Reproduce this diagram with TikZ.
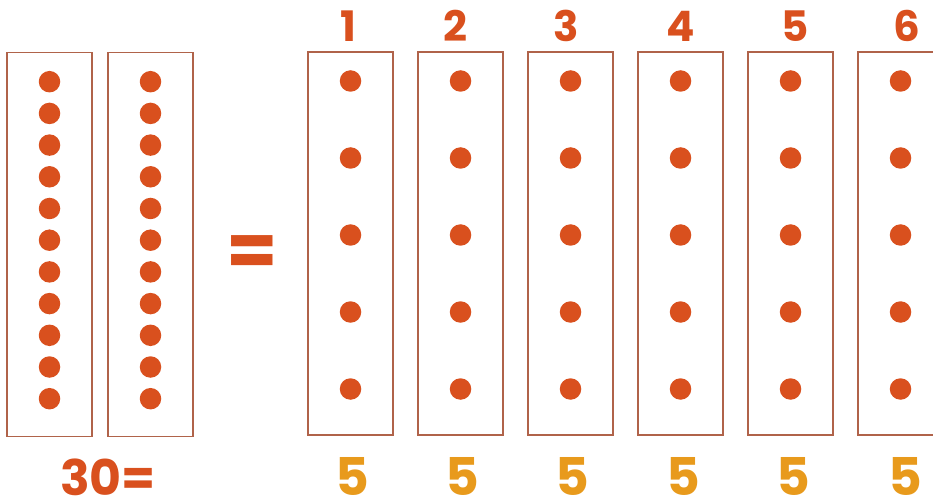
\documentclass[tikz,border=0pt]{standalone}
\usepackage{fontspec}
\setmainfont{Poppins}
\definecolor{dotc}{HTML}{D9501E}
\definecolor{boxc}{HTML}{B0634A}
\definecolor{fivec}{HTML}{E89A1C}
\tikzset{
  colbox/.style={draw=boxc, line width=1.6pt, minimum width=85pt, minimum height=384pt, inner sep=0pt},
  bead/.style={circle, fill=dotc, minimum size=21.5pt, inner sep=0pt},
  topnum/.style={anchor=base, text=dotc, font=\bfseries\fontsize{42}{42}\selectfont, inner sep=0pt},
  botnum/.style={anchor=base, text=fivec, font=\bfseries\fontsize{52}{52}\selectfont, inner sep=0pt},
  total/.style={anchor=base, text=dotc, font=\bfseries\fontsize{49}{49}\selectfont, inner sep=0pt},
  bigeq/.style={anchor=center, text=dotc, font=\bfseries\fontsize{74}{74}\selectfont, inner sep=0pt}
}
\begin{document}
\begin{tikzpicture}[x=1pt,y=-1pt]
\useasboundingbox (0,0) rectangle (933,502);
% left boxes
\foreach \i/\cx in {1/49.5,2/150.5} {
  \node[colbox] (L\i) at (\cx,244.5) {};
  \foreach \j in {0,...,10} {
    \node[bead] (L\i d\j) at (\cx,{81.7+31.7*\j}) {};
  }
}
% equals sign
\node[bigeq] (eq) at (252,256) {=};
% right boxes
\foreach \k in {0,...,5} {
  \pgfmathsetmacro{\cx}{350.5+110*\k}
  \node[colbox, minimum height=383pt] (R\k) at (\cx,243.5) {};
  \foreach \j in {0,...,4} {
    \node[bead] (R\k d\j) at (\cx,{81+77*\j}) {};
  }
}
% top numbers
\foreach \n/\x in {1/348,2/455,3/566,4/681,5/795,6/907} {
  \node[topnum] (T\n) at (\x,42) {\n};
}
% bottom numbers
\foreach \n/\x in {1/352,2/462,3/572,4/683,5/793,6/905} {
  \node[botnum] (B\n) at (\x,495) {5};
}
\node[total] (sum) at (108,495) {30=};
\end{tikzpicture}
\end{document}
